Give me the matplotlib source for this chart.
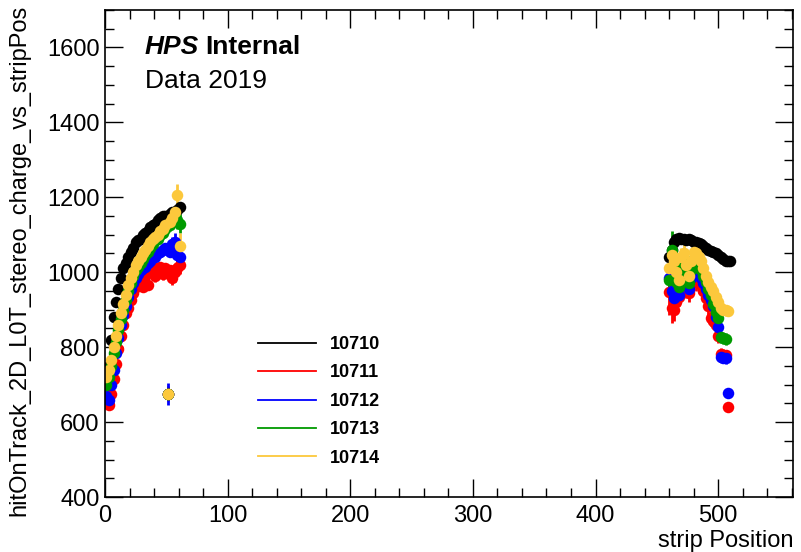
import numpy as np
import matplotlib
matplotlib.use("Agg")
import matplotlib.pyplot as plt
from matplotlib.lines import Line2D
from matplotlib.ticker import MultipleLocator

nan = np.nan
runs = ["10710", "10711", "10712", "10713", "10714"]
colors = ["#000000", "#ff0000", "#0000ff", "#009a00", "#fcc83c"]

left_x = [1, 3, 5, 7, 9, 11, 13, 15, 17, 19, 21, 23, 25, 27, 29, 31, 33, 35, 37, 39,
          41, 43, 45, 47, 49, 51, 53, 55, 57, 59, 61]
right_x = [460, 462, 464, 466, 468, 470, 472, 474, 476, 478, 480, 482, 484, 486, 488,
           490, 492, 494, 496, 498, 500, 502, 504, 506, 508, 510]

left_y = {
    "10710": [690, 750, 820, 880, 920, 955, 985, 1010, 1025, 1040, 1055, 1065, 1080, 1085, 1090,
              1100, 1105, 1110, 1120, 1125, 1130, 1140, 1145, 1150, 1150, 675, 1155, 1160, 1160, 1165, 1175],
    "10711": [655, 645, 675, 715, 755, 795, 830, 860, 890, 905, 925, 945, 960, 985, 965,
              960, 990, 965, 1005, 1010, 990, 1010, 1015, 995, 1010, 675, 1005, 985, 1000, 1010, 1020],
    "10712": [670, 660, 700, 740, 785, 825, 860, 885, 910, 935, 955, 970, 985, 995, 1005,
              1010, 1015, 1025, 1030, 1040, 1040, 1050, 1055, 1060, 1065, 675, 1055, 1075, 1080, 1045, 1040],
    "10713": [700, 720, 750, 785, 815, 845, 875, 900, 925, 950, 970, 990, 1005, 1015, 1025,
              1035, 1045, 1055, 1065, 1075, 1085, 1090, 1100, 1105, 1115, 675, 1125, 1135, 1150, 1140, 1130],
    "10714": [720, 740, 765, 800, 830, 860, 890, 915, 940, 965, 985, 1000, 1020, 1030, 1040,
              1050, 1060, 1070, 1080, 1090, 1095, 1100, 1110, 1115, 1125, 675, 1135, 1145, 1160, 1205, 1070],
}
left_err = {
    "10710": [12, 10, 10, 10, 10, 8, 8, 8, 8, 8, 8, 8, 8, 8, 8, 8, 8, 8, 8, 8, 8, 8, 8, 8, 8, 15, 8, 8, 10, 10, 12],
    "10711": [15, 12, 12, 10, 10, 10, 10, 10, 10, 10, 10, 10, 10, 10, 10, 10, 10, 10, 10, 10, 15, 12, 12, 15, 12, 20, 15, 20, 25, 20, 25],
    "10712": [15, 12, 12, 10, 10, 10, 10, 10, 10, 10, 10, 10, 10, 10, 10, 10, 10, 10, 10, 12, 15, 12, 12, 15, 12, 30, 15, 20, 25, 40, 30],
    "10713": [12, 12, 10, 10, 10, 10, 10, 10, 10, 10, 10, 10, 10, 10, 10, 10, 10, 10, 10, 10, 12, 12, 12, 12, 12, 15, 15, 15, 20, 25, 25],
    "10714": [12, 12, 10, 10, 10, 10, 10, 10, 10, 10, 10, 10, 10, 10, 10, 10, 10, 10, 10, 10, 12, 12, 12, 12, 12, 12, 15, 15, 20, 30, 35],
}
right_y = {
    "10710": [1040, 1060, 1080, 1090, 1092, 1090, 1088, 1085, 1088, 1085, 1082, 1080, 1078,
              1075, 1070, 1065, 1060, 1058, 1055, 1050, 1045, 1040, 1035, 1030, 1030, 1030],
    "10711": [947, 905, 900, 920, 935, 975, 985, 955, 945, 970, 985, 975, 970,
              965, 950, 930, 910, 877, 870, 860, 830, 782, 780, 778, 640, nan],
    "10712": [985, 950, 930, 960, 940, 1000, 1010, 985, 955, 985, 1010, 1005, 995,
              985, 970, 955, 940, 925, 910, 880, 853, 775, 772, 770, 678, nan],
    "10713": [980, 1060, 1010, 975, 960, 1020, 1035, 1000, 970, 1005, 1035, 1030, 1020,
              1005, 990, 975, 955, 940, 915, 895, 877, 826, 824, 822, nan, nan],
    "10714": [1010, 1045, 1030, 1000, 980, 1040, 1050, 1020, 990, 1030, 1055, 1050, 1040,
              1030, 1010, 990, 975, 960, 950, 935, 920, 905, 900, 898, 896, nan],
}
right_err = {
    "10710": [15, 12, 12, 10, 10, 10, 10, 10, 10, 10, 10, 10, 10, 10, 10, 10, 10, 10, 10, 10, 10, 10, 10, 10, 10, 10],
    "10711": [60, 40, 30, 30, 25, 25, 25, 25, 25, 25, 25, 25, 25, 25, 25, 25, 25, 20, 20, 20, 20, 15, 15, 15, 12, 0],
    "10712": [40, 35, 30, 30, 25, 25, 25, 25, 25, 25, 25, 25, 25, 25, 25, 25, 25, 20, 20, 20, 20, 15, 15, 15, 12, 0],
    "10713": [30, 50, 30, 25, 25, 25, 25, 25, 25, 25, 25, 25, 25, 25, 25, 25, 25, 20, 20, 20, 20, 15, 15, 15, 0, 0],
    "10714": [25, 25, 25, 25, 25, 25, 25, 25, 25, 25, 25, 25, 25, 25, 25, 25, 25, 20, 20, 20, 20, 15, 15, 15, 12, 0],
}

FONT = ["Liberation Sans", "DejaVu Sans"]
plt.rcParams["font.family"] = FONT

W, H = 801, 552
fig = plt.figure(figsize=(W / 100, H / 100), dpi=100)
L, R, T, B = 105, 793, 10, 497
ax = fig.add_axes([L / W, 1 - B / H, (R - L) / W, (B - T) / H])

for run, col in zip(runs, colors):
    xs = np.array(left_x + right_x, dtype=float)
    ys = np.array(left_y[run] + right_y[run], dtype=float)
    es = np.array(left_err[run] + right_err[run], dtype=float)
    ax.errorbar(xs, ys, yerr=es, fmt="o", color=col, ms=8.3, mew=0,
                elinewidth=2.0, capsize=0, zorder=2)

ax.set_xlim(0, 561)
ax.set_ylim(400, 1700)
ax.xaxis.set_major_locator(MultipleLocator(100))
ax.xaxis.set_minor_locator(MultipleLocator(20))
ax.yaxis.set_major_locator(MultipleLocator(200))
ax.yaxis.set_minor_locator(MultipleLocator(50))
ax.tick_params(which="both", direction="in", top=True, right=True, width=1.0)
ax.tick_params(which="major", length=13, labelsize=17)
ax.tick_params(which="minor", length=6.5)
ax.tick_params(axis="y", pad=4)
ax.tick_params(axis="x", pad=6)
for s in ax.spines.values():
    s.set_linewidth(1.2)

fig.text(793 / W, 1 - 541 / H, "strip Position", ha="right", va="center", fontsize=17)
fig.text(19 / W, 1 - 5 / H, "hitOnTrack_2D_L0T_stereo_charge_vs_stripPos", rotation=90,
         ha="center", va="top", fontsize=17)

t1 = fig.text(145 / W, 1 - 47 / H, "HPS", ha="left", va="center", fontsize=19,
              fontweight="bold", fontstyle="italic")
fig.canvas.draw()
bb = t1.get_window_extent(fig.canvas.get_renderer())
fig.text(bb.x1 / W + 6 / W, 1 - 47 / H, "Internal", ha="left", va="center", fontsize=19,
         fontweight="bold")
fig.text(145 / W, 1 - 81 / H, "Data 2019", ha="left", va="center", fontsize=19)

handles = [Line2D([], [], color=c, lw=1.3) for c in colors]
fs = 13
px = fs * 100 / 72
leg = fig.legend(handles, runs, loc="upper left", bbox_to_anchor=(258 / W, 1 - 336 / H),
                 frameon=False, prop={"weight": "bold", "size": fs},
                 handlelength=58 / px, handletextpad=14 / px, labelspacing=(29.5 - px) / px,
                 borderpad=0, borderaxespad=0)

fig.savefig("out.png", dpi=100)
